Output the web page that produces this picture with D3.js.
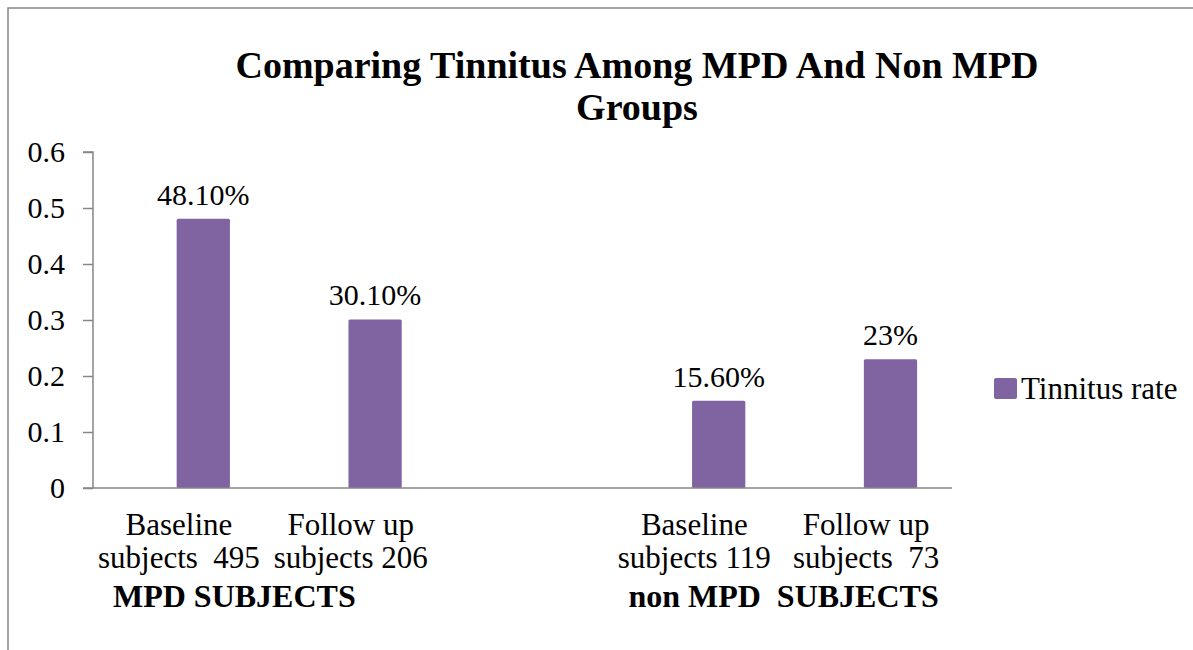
<!DOCTYPE html>
<html>
<head>
<meta charset="utf-8">
<script src="https://cdn.jsdelivr.net/npm/d3@7"></script>
<style>
  html, body { margin: 0; padding: 0; background: #fff; }
  svg { display: block; font-family: "Liberation Serif", "Times New Roman", serif; }
  text { white-space: pre; }
</style>
</head>
<body>
<svg id="chart" width="1193" height="650"></svg>
<script>
// ---- data ----
const categoriesLine1 = ["Baseline", "Follow up", "", "Baseline", "Follow up"];
const categoriesLine2 = ["subjects  495", "subjects 206", "", "subjects 119", "subjects  73"];
const tinnitusRate = [0.481, 0.301, null, 0.156, 0.23];
const valueLabels = ["48.10%", "30.10%", "", "15.60%", "23%"];
const yTicks = [0, 0.1, 0.2, 0.3, 0.4, 0.5, 0.6];
const yTickLabels = ["0", "0.1", "0.2", "0.3", "0.4", "0.5", "0.6"];
const groupLabels = ["MPD SUBJECTS", "non MPD  SUBJECTS"];
const groupStartIndex = [0, 3];
const titleLines = ["Comparing Tinnitus Among MPD And Non MPD", "Groups"];
const seriesName = "Tinnitus rate";

// ---- layout ----
const W = 1193, H = 650;
const plot = { left: 93, right: 952, top: 152, bottom: 488 };
const barColor = "#8064A2";
const axisColor = "#868686";
const serif = "'Liberation Serif', 'Times New Roman', serif";

const svg = d3.select("#chart");
const idx = d3.range(categoriesLine1.length);

const x = d3.scaleBand().domain(idx).range([plot.left, plot.right]).paddingInner(0).paddingOuter(0);
const y = d3.scaleLinear().domain([0, 0.6]).range([plot.bottom, plot.top]);

// outer border
svg.append("path")
  .attr("d", `M8,${H} L8,8 L${W},8`)
  .attr("fill", "none").attr("stroke", axisColor).attr("stroke-width", 1.5);

// title
svg.append("text")
  .attr("x", 637).attr("y", 78)
  .attr("text-anchor", "middle")
  .attr("font-size", 38).attr("font-weight", "bold")
  .selectAll("tspan").data(titleLines).join("tspan")
  .attr("x", 637).attr("dy", (d, i) => i === 0 ? 0 : 42)
  .text(d => d);

// y axis
const yAxis = d3.axisLeft(y).tickValues(yTicks)
  .tickFormat((d, i) => yTickLabels[i]).tickSize(10).tickPadding(18);
const gy = svg.append("g").attr("transform", `translate(${plot.left},0)`).call(yAxis);
gy.attr("font-family", serif);
gy.select(".domain").attr("stroke", axisColor).attr("stroke-width", 1.5).attr("d", `M-10,${plot.top}H0V${plot.bottom}`);
gy.selectAll(".tick line").attr("stroke", axisColor).attr("stroke-width", 1.5);
gy.selectAll(".tick text").attr("font-size", 30).attr("fill", "#000");

// bars
const bw = x.bandwidth();
const barW = bw * 0.31;
const barCenter = i => x(i) + bw * 0.642;
const barData = idx.filter(i => tinnitusRate[i] != null);

svg.append("g").selectAll("rect").data(barData).join("rect")
  .attr("x", i => barCenter(i) - barW / 2)
  .attr("y", i => y(tinnitusRate[i]))
  .attr("width", barW)
  .attr("height", i => y(0) - y(tinnitusRate[i]))
  .attr("rx", 1.5)
  .attr("fill", barColor);

// x axis line
svg.append("line")
  .attr("x1", plot.left - 10).attr("x2", plot.right)
  .attr("y1", y(0)).attr("y2", y(0))
  .attr("stroke", axisColor).attr("stroke-width", 1.5);

// value labels
svg.append("g").selectAll("text").data(barData).join("text")
  .attr("x", i => barCenter(i))
  .attr("y", i => y(tinnitusRate[i]) - 14)
  .attr("text-anchor", "middle")
  .attr("font-size", 30)
  .text(i => valueLabels[i]);

// category labels
const cat = svg.append("g").selectAll("text").data(idx.filter(i => categoriesLine1[i] !== "")).join("text")
  .attr("text-anchor", "middle").attr("font-size", 31);
cat.append("tspan").attr("x", i => x(i) + bw / 2).attr("y", 535).text(i => categoriesLine1[i]);
cat.append("tspan").attr("x", i => x(i) + bw / 2).attr("y", 568).text(i => categoriesLine2[i]);

// group labels
svg.append("g").selectAll("text").data(groupLabels).join("text")
  .attr("x", (d, i) => x(groupStartIndex[i]) + 20)
  .attr("y", 607)
  .attr("font-size", 32).attr("font-weight", "bold")
  .text(d => d);

// legend
const lg = svg.append("g").attr("transform", "translate(994,378)");
lg.append("rect").attr("width", 23).attr("height", 21).attr("rx", 2).attr("fill", barColor);
lg.append("text").attr("x", 27).attr("y", 21).attr("font-size", 31).text(seriesName);
</script>
</body>
</html>
